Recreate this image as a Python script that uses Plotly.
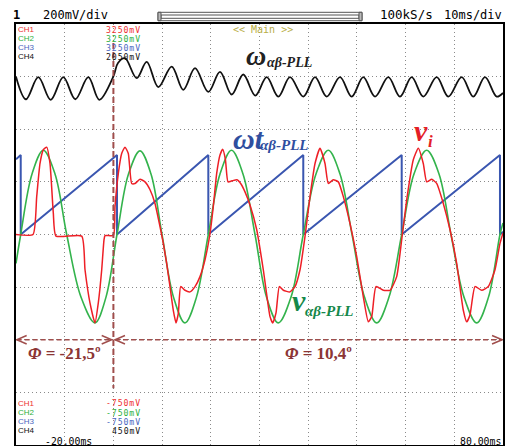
import plotly.graph_objects as go

# ---------------- data (time in ms, amplitude in screen divisions) ----------------
black_t = [-20.0, -17.95, -15.42, -12.87, -10.29, -7.82, -5.15, -2.90, -0.02, 0.94, 2.38, 4.78,
           6.84, 9.22, 11.97, 14.35, 16.76, 19.49, 21.89, 24.29, 26.67, 29.14, 31.48, 33.86,
           36.26, 38.99, 41.40, 43.80, 46.53, 48.93, 51.31, 53.72, 56.45, 58.85, 61.25, 63.63,
           66.38, 68.77, 71.52, 73.90, 76.30, 78.71, 80.0]
black_v = [3.00, 2.57, 2.99, 2.56, 2.99, 2.57, 2.99, 2.56, 3.00, 3.26, 3.35, 2.97,
           3.28, 2.80, 3.19, 2.75, 3.16, 2.71, 3.09, 2.66, 3.04, 2.64, 2.99, 2.62,
           2.99, 2.62, 2.99, 2.62, 2.99, 2.62, 2.99, 2.62, 2.99, 2.62, 2.99, 2.62,
           2.99, 2.62, 2.99, 2.62, 2.99, 2.62, 2.69]

blue_t = [-20.0, -19.03, -19.03, 0.74, 0.74, 19.49, 19.49, 38.99, 38.99, 59.20, 59.20, 79.38, 79.38, 80.0]
blue_v = [1.43, 1.51, 0.0, 1.51, 0.0, 1.51, 0.0, 1.51, 0.0, 1.51, 0.0, 1.51, 0.0, 0.05]

green_t = [-20.0, -19.03, -16.71, -14.39, -11.99, -9.59, -6.65, -3.78, -1.52, 0.74,
           3.10, 5.46, 7.72, 9.98, 12.34, 14.70, 17.06, 19.49,
           21.89, 24.25, 26.61, 29.08, 31.44, 33.86, 36.47, 38.99,
           41.60, 44.13, 46.53, 49.00, 51.56, 54.07, 56.59, 59.20,
           61.72, 64.33, 66.86, 69.32, 71.99, 74.60, 77.02, 79.38, 80.0]
green_v = [-0.55, 0.0, 1.15, 1.60, 1.15, 0.0, -1.19, -1.68, -1.19, 0.0,
           1.15, 1.59, 1.15, 0.0, -1.19, -1.68, -1.19, 0.0,
           1.15, 1.60, 1.15, 0.0, -1.19, -1.68, -1.19, 0.0,
           1.15, 1.60, 1.15, 0.0, -1.19, -1.68, -1.19, 0.0,
           1.15, 1.60, 1.15, 0.0, -1.19, -1.68, -1.19, 0.0, 0.22]

red_t = [-20.0, -16.51, -15.75, -15.07, -14.39, -13.70, -13.02, -12.34, -11.79, -6.51,
         -5.83, -4.81, -3.78, -3.10, -2.40, -1.93, -1.72, 0.0, 0.33, 1.01,
         1.70, 2.38, 3.06, 3.76, 4.44, 5.46, 6.49, 7.52, 8.54, 9.57,
         10.25, 10.94, 11.62, 12.30, 12.85, 13.33, 13.82, 14.70, 15.73, 16.76,
         17.78, 18.81, 19.84, 20.51, 21.21, 21.89, 22.44, 23.01, 23.53, 24.35,
         25.38, 26.20, 27.02, 28.05, 29.43, 30.78, 32.16, 32.71, 33.39, 34.07,
         34.89, 36.26, 37.29, 38.32, 39.34, 40.37, 41.40, 42.42, 43.45, 44.13,
         45.15, 46.18, 47.21, 48.58, 49.96, 51.31, 52.34, 53.04, 53.92, 55.42,
         56.80, 58.17, 59.20, 60.23, 61.58, 62.61, 63.63, 64.33, 65.36, 66.38,
         67.74, 69.12, 70.49, 71.85, 72.55, 73.22, 74.25, 75.63, 76.98, 78.36,
         79.38, 80.0]
red_v = [0.0, 0.0, 0.72, 1.35, 1.61, 1.66, 1.35, 0.41, -0.03, -0.03,
         -0.67, -1.30, -1.68, -1.30, -0.67, -0.10, -0.02, -0.02, 0.53, 1.16,
         1.54, 1.66, 1.54, 0.97, 0.97, 1.05, 1.00, 0.85, 0.59, 0.15,
         -0.17, -0.55, -0.99, -1.44, -1.68, -1.50, -0.99, -1.06, -1.09, -0.99,
         -0.80, -0.48, 0.02, 0.53, 1.16, 1.51, 1.62, 1.42, 1.00, 1.02,
         1.04, 0.96, 0.81, 0.56, 0.09, -0.67, -1.56, -1.68, -1.49, -0.99,
         -1.06, -1.09, -0.99, -0.67, -0.04, 0.72, 1.35, 1.64, 1.35, 0.97,
         1.04, 1.00, 0.72, 0.21, -0.42, -1.18, -1.66, -1.56, -0.99, -1.06,
         -1.06, -0.80, -0.10, 0.66, 1.42, 1.64, 1.35, 1.00, 1.05, 0.97,
         0.59, 0.09, -0.55, -1.44, -1.66, -1.53, -0.99, -1.06, -0.99, -0.67,
         -0.17, 0.03]

phase_jump_t = 0.0
phase_labels = ["-21,5º", "10,4º"]
top_vals = ["3250mV", "3250mV", "3250mV", "2050mV"]
bot_vals = ["-750mV", "-750mV", "-750mV", "450mV"]

# ---------------- layout geometry ----------------
W, H = 509, 446
L, R, T, B = 16, 6, 24, 1
PW, PH = W - L - R, H - T - B


def px(x):
    return (x - L) / PW


def py(y):
    return (H - B - y) / PH


fig = go.Figure()
fig.add_trace(go.Scatter(x=blue_t, y=blue_v, mode="lines",
                         line=dict(color="#3a56b0", width=2), hoverinfo="skip"))
fig.add_trace(go.Scatter(x=green_t, y=green_v, mode="lines",
                         line=dict(color="#33b34c", width=1.6, shape="spline", smoothing=1.0),
                         hoverinfo="skip"))
fig.add_trace(go.Scatter(x=red_t, y=red_v, mode="lines",
                         line=dict(color="#ee1f26", width=1.5, shape="spline", smoothing=0.5),
                         hoverinfo="skip"))
fig.add_trace(go.Scatter(x=black_t, y=black_v, mode="lines",
                         line=dict(color="#111111", width=1.8, shape="spline", smoothing=1.0),
                         hoverinfo="skip"))

BROWN = "#a04e4c"
DARKBROWN = "#8c3535"
shapes = []
# vertical dashed marker at the phase jump
shapes.append(dict(type="line", xref="x", yref="y", x0=phase_jump_t, x1=phase_jump_t,
                   y0=3.64, y1=-2.92, line=dict(color=BROWN, width=2, dash="6px,3px")))
# horizontal dashed measurement arrows
ya = -2.0
dx, dy = 2.05, 0.08
for x0, x1 in [(-19.86, -0.35), (0.33, 79.8)]:
    shapes.append(dict(type="line", xref="x", yref="y", x0=x0, x1=x1, y0=ya, y1=ya,
                       line=dict(color=BROWN, width=1.5, dash="5px,3px")))
    shapes.append(dict(type="path", xref="x", yref="y",
                       path=f"M {x0+dx},{ya+dy} L {x0},{ya} L {x0+dx},{ya-dy}",
                       line=dict(color=BROWN, width=1.5)))
    shapes.append(dict(type="path", xref="x", yref="y",
                       path=f"M {x1-dx},{ya+dy} L {x1},{ya} L {x1-dx},{ya-dy}",
                       line=dict(color=BROWN, width=1.5)))

# header scroll bar
shapes.append(dict(type="rect", xref="paper", yref="paper", x0=px(158), x1=px(362),
                   y0=py(20.7), y1=py(12.3), line=dict(color="#555555", width=1)))
shapes.append(dict(type="rect", xref="paper", yref="paper", x0=px(161), x1=px(359),
                   y0=py(18.3), y1=py(15), line=dict(color="#555555", width=1)))
shapes.append(dict(type="rect", xref="paper", yref="paper", x0=px(158), x1=px(161),
                   y0=py(20.7), y1=py(12.3), line=dict(color="#555555", width=1),
                   fillcolor="#bbbbbb"))
shapes.append(dict(type="rect", xref="paper", yref="paper", x0=px(359), x1=px(362),
                   y0=py(20.7), y1=py(12.3), line=dict(color="#555555", width=1),
                   fillcolor="#bbbbbb"))

MONO = "DejaVu Sans Mono"
SANS = "Liberation Sans"
SERIF = "Liberation Serif, Times New Roman, serif"

ann = []


def txt(x, y, s, size, color, family, xanchor="left", yanchor="middle"):
    ann.append(dict(x=px(x), y=py(y), xref="paper", yref="paper", text=s, showarrow=False,
                    font=dict(size=size, color=color, family=family),
                    xanchor=xanchor, yanchor=yanchor, borderpad=0))


def spaced(s):
    return f'<span style="letter-spacing:0.9px">{s}</span>'


# header
txt(12, 15, "<b>1</b>", 12, "#000", MONO)
txt(42, 15, "200mV/div", 12, "#000", MONO)
txt(379, 15, "100kS/s", 12.5, "#000", MONO)
txt(503, 15, "10ms/div", 12, "#000", MONO, xanchor="right")

CHC = ["#ee3030", "#2eb03e", "#4a66c0", "#111111"]
for i in range(4):
    txt(16.5, 29.5 + 9.1 * i, f"CH{i+1}", 8, CHC[i], SANS)
    txt(142, 29.5 + 9.1 * i, spaced(top_vals[i]), 8.2, CHC[i], MONO, xanchor="right")
    txt(16.5, 403.3 + 9.2 * i, f"CH{i+1}", 8, CHC[i], SANS)
    txt(142, 403.3 + 9.2 * i, spaced(bot_vals[i]), 8.2, CHC[i], MONO, xanchor="right")
txt(263, 29.5, "&lt;&lt; Main &gt;&gt;", 10, "#b8ad45", MONO, xanchor="center")
txt(44, 441.5, "-20.00ms", 9.8, "#000", MONO)
txt(502, 441.5, "80.00ms", 9.8, "#000", MONO, xanchor="right")

# signal labels
txt(245, 55, "<b><i>ω</i></b>", 28, "#222222", SERIF)
txt(266, 63, "<b><i>αβ-PLL</i></b>", 14, "#222222", SERIF)
txt(232, 138, "<b><i>ωt</i></b>", 30, "#2f4f9f", SERIF)
txt(259, 145, "<b><i>αβ-PLL</i></b>", 15, "#2f4f9f", SERIF)
txt(413, 130, "<b><i>v</i></b>", 30, "#e41e26", SERIF)
txt(427, 141, "<b><i>i</i></b>", 17, "#e41e26", SERIF)
txt(291, 300, "<b><i>v</i></b>", 30, "#15884a", SERIF)
txt(304, 311, "<b><i>αβ-PLL</i></b>", 15, "#15884a", SERIF)

# phase labels
txt(64, 353, f"<b><i>Φ</i> = {phase_labels[0]}</b>", 17, DARKBROWN, SERIF, xanchor="center")
txt(318, 353, f"<b><i>Φ</i> = {phase_labels[1]}</b>", 17, DARKBROWN, SERIF, xanchor="center")

grid = dict(showgrid=True, gridcolor="#8a8a8a", gridwidth=1, griddash="1px,3px",
            zeroline=False, showticklabels=False, ticks="", showline=True, mirror=True,
            linecolor="#000", linewidth=1.5)
fig.update_layout(
    width=W, height=H, margin=dict(l=L, r=R, t=T, b=B, pad=0),
    paper_bgcolor="white", plot_bgcolor="white", showlegend=False,
    xaxis=dict(range=[-20, 80], dtick=10, tick0=-20, **grid),
    yaxis=dict(range=[-4, 4], dtick=1, tick0=-4, **grid),
    shapes=shapes, annotations=ann,
)
fig.write_html("out.html")
